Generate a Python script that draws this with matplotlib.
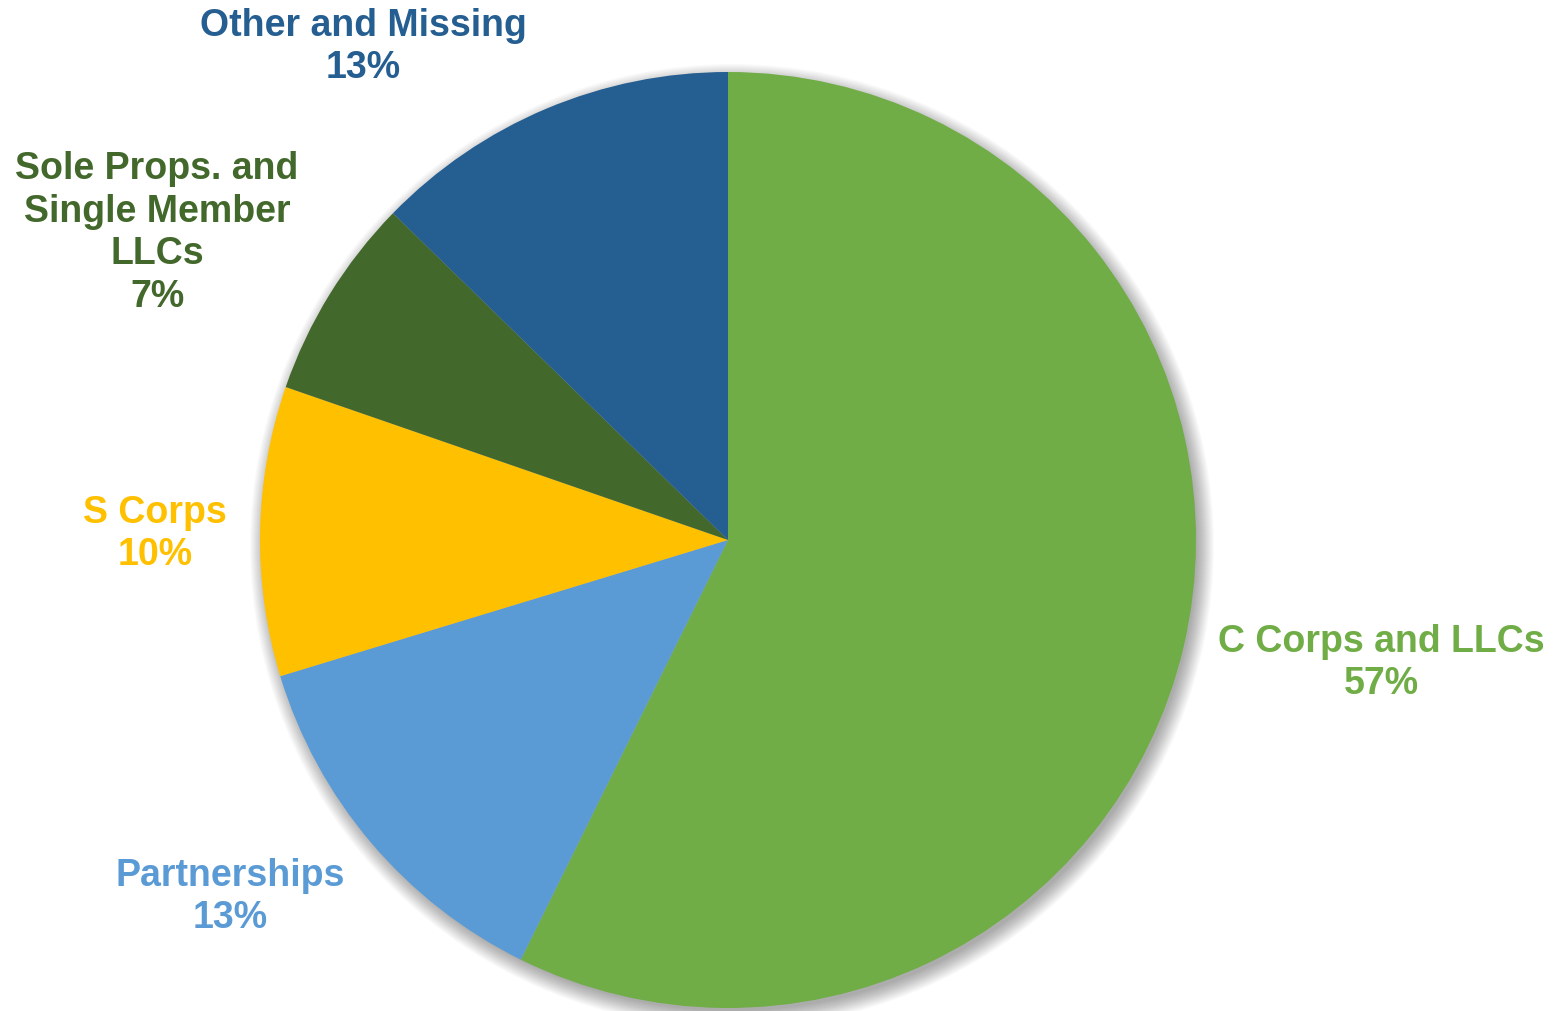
import matplotlib.pyplot as plt
from matplotlib.patches import Circle

labels = ['C Corps and LLCs', 'Partnerships', 'S Corps',
          'Sole Props. and\nSingle Member\nLLCs', 'Other and Missing']
shares = [57.3, 13.0, 10.0, 7.0, 12.7]
colors = ['#70AD47', '#5B9BD5', '#FFC000', '#43682B', '#255E91']

# label centres in pixel space (figure is 1554x1011, y from top)
label_pos = [(1381, 663), (230, 897), (155, 534), (157, 233), (363, 47)]

plt.rcParams['font.family'] = ['Liberation Sans', 'DejaVu Sans']

fig = plt.figure(figsize=(15.54, 10.11), dpi=100)
ax = fig.add_axes([0, 0, 1, 1])

cx, cy, r = 728, 1011 - 540, 468

# soft shadow
for i in range(18):
    ax.add_patch(Circle((cx + 4, cy - 6), r + 14 - i, color='black',
                        alpha=0.018, lw=0, zorder=0))

ax.pie(shares, colors=colors, startangle=90, counterclock=False,
       center=(cx, cy), radius=r, frame=True,
       wedgeprops=dict(linewidth=0))
ax.set_xlim(0, 1554)
ax.set_ylim(0, 1011)
ax.set_aspect('equal')
ax.axis('off')

for lab, val, col, (x, y) in zip(labels, shares, colors, label_pos):
    ax.text(x, 1011 - y, f'{lab}\n{val:.0f}%', color=col, fontsize=27,
            fontweight='bold', ha='center', va='center', linespacing=1.24)

fig.savefig('out.png', dpi=100)
